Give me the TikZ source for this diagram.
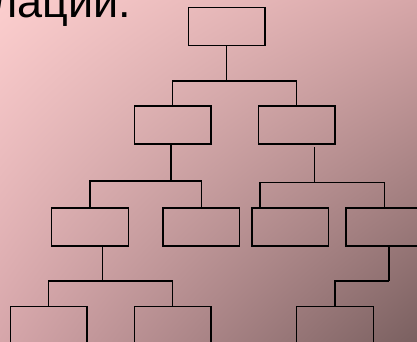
\documentclass[tikz,border=0pt]{standalone}
\usepackage{fontspec}
\setmainfont{Liberation Sans}
\usetikzlibrary{shadings}
\definecolor{bgUL}{RGB}{252,206,206}
\definecolor{bgUR}{RGB}{214,166,168}
\definecolor{bgLL}{RGB}{214,166,170}
\definecolor{bgLR}{RGB}{122,96,96}
\begin{document}
\begin{tikzpicture}[x=1pt,y=-1pt,
  box/.style={draw=black,line width=1.3pt,rectangle,minimum width=76.5pt,minimum height=38pt,inner sep=0pt},
  conn/.style={draw=black,line width=1.3pt}]
\useasboundingbox (0,0) rectangle (417,342);
\begin{scope}
\clip (0,0) rectangle (417,342);
\shade[upper left=bgUL,upper right=bgUR,lower left=bgLL,lower right=bgLR]
  (0,0) rectangle (417,342);
\node[anchor=base east,inner sep=0pt,font=\fontsize{45}{45}\selectfont] (title) at (131.5,17.7) {елации.};
% boxes
\node[box] (root) at (226.8,26.3) {};
\node[box] (l2a) at (172.7,125) {};
\node[box] (l2b) at (296.7,125) {};
\node[box] (l3a) at (90,227) {};
\node[box] (l3b) at (201.2,227) {};
\node[box] (l3c) at (290.3,227) {};
\node[box] (l3d) at (384.3,227) {};
\node[box] (l4a) at (48.8,325.3) {};
\node[box] (l4b) at (172.7,325.3) {};
\node[box] (l4c) at (334.9,325.3) {};
% junctions
\coordinate (j1) at (226.8,81);
\coordinate (j2) at (171,181);
\coordinate (j3) at (314.3,182.7);
\coordinate (j3s) at (314.3,147);
\coordinate (j3c) at (260,208);
\coordinate (j4) at (102.7,281);
\coordinate (j5) at (389,281);
% connectors
\draw[conn] (root.south) -- (j1);
\draw[conn] (l2a.north) |- (j1) -| (l2b.north);
\draw[conn] (j2 |- l2a.south) -- (j2);
\draw[conn] (l3a.north) |- (j2) -| (l3b.north);
\draw[conn] (j3s) -- (j3);
\draw[conn] (j3c) |- (j3) -| (l3d.north);
\draw[conn] (j4 |- l3a.south) -- (j4);
\draw[conn] (l4a.north) |- (j4) -| (l4b.north);
\draw[conn] (j5 |- l3d.south) -- (j5);
\draw[conn] (l4c.north) |- (j5);
\end{scope}
\end{tikzpicture}
\end{document}
